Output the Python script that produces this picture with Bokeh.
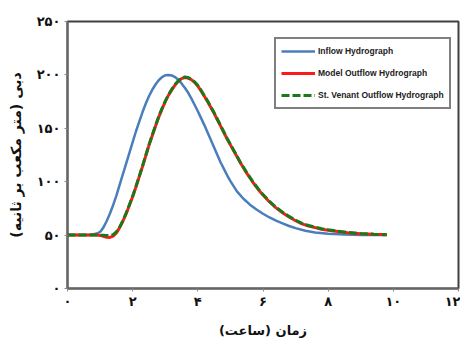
from bokeh.plotting import figure
from bokeh.models import Legend, LegendItem, FixedTicker
from bokeh.embed import file_html
from bokeh.resources import INLINE

# ---- data ----
inflow_t = [0.0, 0.4, 0.7, 0.9, 1.0, 1.1, 1.2, 1.3, 1.4, 1.5, 1.6, 1.7, 1.8, 1.9, 2.0,
            2.1, 2.2, 2.3, 2.4, 2.5, 2.6, 2.7, 2.8, 2.9, 3.0, 3.1, 3.2, 3.3, 3.4, 3.5,
            3.6, 3.7, 3.8, 3.9, 4.0, 4.1, 4.2, 4.3, 4.4, 4.5, 4.6, 4.7, 4.8, 4.9, 5.0,
            5.2, 5.4, 5.6, 5.8, 6.0, 6.2, 6.4, 6.6, 6.8, 7.0, 7.3, 7.6, 8.0, 8.5, 9.0, 9.75]
inflow_q = [50, 50, 50.2, 51.5, 53, 57, 63, 70, 78, 87, 97, 107, 117, 127, 137,
            147, 156, 165, 173, 180, 186, 191, 195, 198, 199.7, 200, 199.5, 198, 195.5, 192,
            188, 183.5, 178, 172, 166, 159.5, 153, 146, 139, 132, 125, 118, 112, 106, 100.5,
            91, 84, 78.5, 74, 70, 66.5, 63.5, 61, 58.5, 56.5, 54, 52.5, 51.2, 50.5, 50.2, 50]

model_t = [0.0, 0.9, 1.0, 1.1, 1.2, 1.3, 1.4, 1.5, 1.6, 1.7, 1.8, 1.9, 2.0, 2.1, 2.2,
           2.3, 2.4, 2.5, 2.6, 2.7, 2.8, 2.9, 3.0, 3.1, 3.2, 3.3, 3.4, 3.5, 3.6, 3.7,
           3.8, 3.9, 4.0, 4.1, 4.2, 4.3, 4.4, 4.5, 4.6, 4.7, 4.8, 4.9, 5.0, 5.1, 5.2,
           5.3, 5.4, 5.5, 5.6, 5.7, 5.8, 5.9, 6.0, 6.2, 6.4, 6.6, 6.8, 7.0, 7.2, 7.4,
           7.6, 7.8, 8.0, 8.3, 8.6, 9.0, 9.4, 9.8]
model_q = [50, 50, 49.7, 48.8, 48, 47.8, 49, 52, 57, 63, 70, 78, 86, 95, 104.5,
           114, 124, 134, 143, 152, 160.5, 168, 175, 181, 186, 190.5, 194, 196.5, 197.5, 197,
           195.5, 193, 189.5, 185, 180, 175, 169.5, 164, 158, 152, 146, 140, 134.5, 129, 123.5,
           118, 113, 108, 103.5, 99, 95, 91, 87.5, 81, 75.5, 71, 67, 63.5, 60.5, 58.5,
           57, 55.5, 54.5, 53.3, 52.3, 51.3, 50.7, 50.3]

stv_t = model_t
stv_q = [50, 50, 50, 49.8, 49.6, 49.7, 50.4, 53, 57.5, 63.5, 70.5, 78.5, 86.5, 95.5, 105,
         114.5, 124.5, 134.5, 143.5, 152.5, 161, 168.5, 175.5, 181.5, 186.5, 191, 194.5, 197, 198, 197.5,
         196, 193.5, 190, 185.5, 180.5, 175.5, 170, 164.5, 158.5, 152.5, 146.5, 140.5, 135, 129.5, 124,
         118.5, 113.5, 108.5, 104, 99.5, 95.5, 91.5, 88, 81.5, 76, 71.5, 67.5, 64, 61, 59,
         57.5, 56, 55, 53.6, 52.5, 51.5, 50.8, 50.4]

x_ticks = [0, 2, 4, 6, 8, 10, 12]
x_tick_labels = ["۰", "۲", "۴", "۶", "۸", "۱۰", "۱۲"]
y_ticks = [0, 50, 100, 150, 200, 250]
y_tick_labels = ["۰", "۵۰", "۱۰۰", "۱۵۰", "۲۰۰", "۲۵۰"]

series_names = ["Inflow Hydrograph", "Model Outflow Hydrograph", "St. Venant Outflow Hydrograph"]
x_title = "زمان (ساعت)"
y_title = "دبی (متر مکعب بر ثانیه)"

FA = "DejaVu Sans"

p = figure(width=460, height=340, x_range=(0, 12), y_range=(0, 250),
           output_backend="svg", toolbar_location=None,
           min_border_left=67, min_border_top=21, min_border_bottom=49, min_border_right=2)

p.xgrid.visible = False
p.ygrid.visible = False
p.outline_line_color = "#404040"
p.outline_line_width = 2
p.background_fill_color = "white"

r1 = p.line(inflow_t, inflow_q, line_color="#4a7ebb", line_width=2.5)
r2 = p.line(model_t, model_q, line_color="#ff1a1a", line_width=3)
r3 = p.line(stv_t, stv_q, line_color="#1a7a1a", line_width=3, line_dash="8 3")

p.xaxis.ticker = FixedTicker(ticks=x_ticks)
p.yaxis.ticker = FixedTicker(ticks=y_ticks)
p.xaxis.major_label_overrides = {t: l for t, l in zip(x_ticks, x_tick_labels)}
p.yaxis.major_label_overrides = {t: l for t, l in zip(y_ticks, y_tick_labels)}

for ax in (p.xaxis[0], p.yaxis[0]):
    ax.axis_line_color = "#666666"
    ax.axis_line_width = 2
    ax.major_tick_line_color = "#888888"
    ax.major_tick_in = 0
    ax.major_tick_out = 3
    ax.minor_tick_line_color = None
    ax.major_label_text_font = FA
    ax.major_label_text_font_style = "bold"
    ax.major_label_text_font_size = "13px"
    ax.major_label_text_color = "#111111"
    ax.axis_label_text_font = FA
    ax.axis_label_text_font_style = "bold"
    ax.axis_label_text_font_size = "13px"
    ax.axis_label_text_color = "#111111"

p.yaxis.axis_label_text_font_size = "14px"
p.xaxis.axis_label = x_title
p.yaxis.axis_label = y_title
p.xaxis.major_label_standoff = 2
p.xaxis.axis_label_standoff = 11
p.yaxis.major_label_standoff = 4
p.yaxis.axis_label_standoff = 10

legend = Legend(items=[LegendItem(label=series_names[0], renderers=[r1]),
                       LegendItem(label=series_names[1], renderers=[r2]),
                       LegendItem(label=series_names[2], renderers=[r3])],
                location=(207, 179))
legend.border_line_color = "black"
legend.border_line_width = 2
legend.background_fill_color = "white"
legend.background_fill_alpha = 1
legend.label_text_font = "Liberation Sans"
legend.label_text_font_style = "bold"
legend.label_text_font_size = "8.5px"
legend.label_text_color = "#222222"
legend.glyph_width = 34
legend.glyph_height = 14
legend.label_height = 14
legend.label_standoff = 3
legend.spacing = 8
legend.padding = 5
legend.margin = 0
p.add_layout(legend, "center")

open("out.html", "w").write(file_html(p, INLINE))
